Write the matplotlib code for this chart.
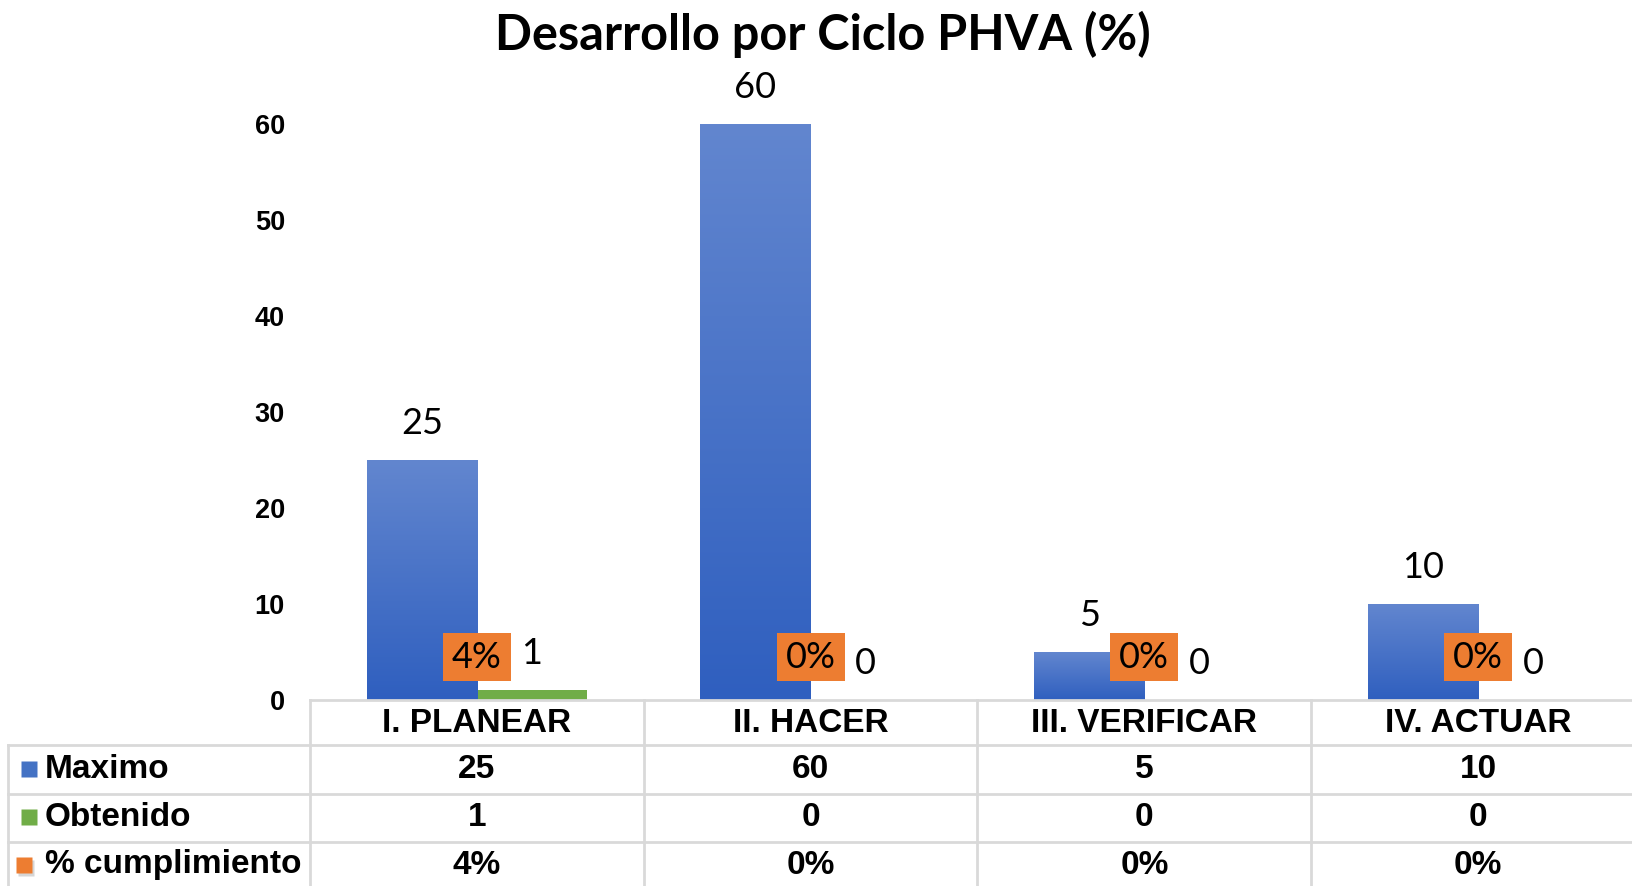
import numpy as np
import matplotlib.pyplot as plt
from matplotlib.colors import LinearSegmentedColormap
from matplotlib.patches import Shadow, Rectangle

plt.rcParams['font.family'] = ['Lato', 'DejaVu Sans']

# datos
categorias = ["I. PLANEAR", "II. HACER", "III. VERIFICAR", "IV. ACTUAR"]
series = ["Maximo", "Obtenido", "% cumplimiento"]
maximo = [25, 60, 5, 10]
obtenido = [1, 0, 0, 0]
cumplimiento = [4, 0, 0, 0]  # en %

azul = "#4472C4"
verde = "#70AD47"
naranja = "#ED7D31"
gris = "#d9d9d9"
tabla_font = dict(family=['Liberation Sans', 'DejaVu Sans'], weight="bold", size=24)
etiqueta_font = dict(family=['Lato', 'DejaVu Sans'], size=26)

fig = plt.figure(figsize=(16.33, 8.86), dpi=100)
W, H = 1633, 886
ax = fig.add_axes([310/W, 1-700/H, 1335/W, 576/H])

x = np.arange(len(categorias))
w = 0.33
b1 = ax.bar(x - w/2, maximo, w, color=azul, zorder=2)
b2 = ax.bar(x + w/2, obtenido, w, color=verde, zorder=2)

# sombra y degradado de las barras
grad = np.linspace(0, 1, 256).reshape(-1, 1)
cmap = LinearSegmentedColormap.from_list("azul", ["#2F5FBF", "#6286CF"])
for r in list(b1) + list(b2):
    if r.get_height() > 0:
        ax.add_patch(Shadow(r, 3, -1, facecolor="0.55", alpha=0.35, zorder=1))
for r in b1:
    x0, y0 = r.get_x(), r.get_y()
    im = ax.imshow(grad, cmap=cmap, origin="lower", aspect="auto", zorder=3,
                   extent=[x0, x0 + r.get_width(), y0, y0 + r.get_height()])
    im.set_clip_path(r)

ax.set_xlim(-0.5, 3.5)
ax.set_ylim(0, 60)
ax.set_yticks(np.arange(0, 61, 10))
ax.set_xticks([])
ax.tick_params(axis="y", length=0, pad=18)
for t in ax.get_yticklabels():
    t.set_fontfamily(['Liberation Sans', 'DejaVu Sans'])
    t.set_fontweight("bold")
    t.set_fontsize(19.5)
for s in ax.spines.values():
    s.set_visible(False)

# etiquetas de datos
for i in range(len(categorias)):
    ax.annotate(str(maximo[i]), (x[i] - w/2, maximo[i]), xytext=(0, 26.6),
                textcoords="offset points", ha="center", va="center",
                zorder=6, annotation_clip=False, **etiqueta_font)
    ax.annotate(str(obtenido[i]), (x[i] + w/2, obtenido[i]), xytext=(0, 26.6),
                textcoords="offset points", ha="center", va="center",
                zorder=6, **etiqueta_font)

fig.text(823/W, 1-34/H, "Desarrollo por Ciclo PHVA (%)", ha="center", va="center",
         fontsize=35, fontweight="bold")

# capa en pixeles para la tabla y las cajas de % cumplimiento
tab = fig.add_axes([0, 0, 1, 1], zorder=5)
tab.set_xlim(0, W)
tab.set_ylim(H, 0)
tab.axis("off")

bordes = [ax.transData.transform((b, 0))[0] for b in np.arange(-0.5, 4, 1)]
centros = [ax.transData.transform((c, 0))[0] for c in x]
cero_y = H - ax.transData.transform((0, 0))[1]

for c, v in zip(centros, cumplimiento):
    yc = cero_y - 43
    tab.add_patch(Rectangle((c - 34, yc - 24), 68, 48, fc=naranja, ec="none"))
    tab.text(c, yc, f"{v}%", ha="center", va="center", **etiqueta_font)

lineas_y = [700, 745, 794, 842]
filas_y = [769, 817, 865]

tab.plot([bordes[0], W], [lineas_y[0]] * 2, color=gris, lw=2)
for yl in lineas_y[1:]:
    tab.plot([8, W], [yl] * 2, color=gris, lw=2)
tab.plot([8, 8], [lineas_y[1], H], color=gris, lw=2)
for b in bordes:
    tab.plot([b, b], [lineas_y[0], H], color=gris, lw=2)

for c, nombre in zip(centros, categorias):
    tab.text(c, 723, nombre, ha="center", va="center", **tabla_font)

valores = [[str(v) for v in maximo], [str(v) for v in obtenido],
           [f"{v}%" for v in cumplimiento]]
colores = [azul, verde, naranja]
for j, nombre in enumerate(series):
    yr = filas_y[j]
    if j < 2:
        tab.plot(29, yr, marker="s", ms=12, color=colores[j], mec="none")
    else:
        tab.plot(26, yr + 3, marker="s", ms=11, color="0.6", alpha=0.4, mec="none")
        tab.plot(24, yr, marker="s", ms=11, color=colores[j], mec="none")
    tab.text(45, yr, nombre, ha="left", va="center", **tabla_font)
    for c, v in zip(centros, valores[j]):
        tab.text(c, yr, v, ha="center", va="center", **tabla_font)

fig.savefig("out.png", dpi=100)
